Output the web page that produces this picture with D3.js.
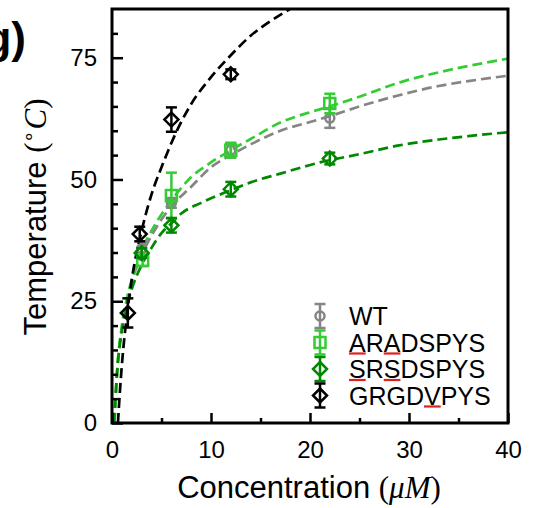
<!DOCTYPE html>
<html>
<head>
<meta charset="utf-8">
<script src="https://cdn.jsdelivr.net/npm/d3@7"></script>
<style>
  body { margin: 0; background: #fff; }
  svg { display: block; font-family: "Liberation Sans", Arial, sans-serif; }
</style>
</head>
<body>
<svg id="chart" width="539" height="508"></svg>
<script>
// measured points (concentration in uM, temperature in C, error)
let wtX = [3, 6, 12, 22];
let wtY = [35.8, 45.2, 56.0, 62.6];
let wtErr = [1.5, 1.0, 1.5, 2.0];

let araX = [3.1, 6, 12, 22];
let araY = [33.4, 46.7, 56.0, 65.6];
let araErr = [1.2, 4.7, 1.5, 2.0];

let srsX = [3, 6, 12, 22];
let srsY = [34.9, 40.6, 48.0, 54.3];
let srsErr = [1.0, 1.5, 1.5, 1.2];

let grgX = [1.6, 2.8, 6, 12];
let grgY = [22.6, 38.8, 62.3, 71.6];
let grgErr = [3.0, 1.5, 2.5, 1.0];

// fitted curves
let fitBlackX = [0.6, 0.8, 1.0, 1.5, 2, 3, 4, 5, 6, 8, 10, 12, 14, 16, 18.4];
let fitBlackY = [0, 6.5, 12, 22, 29.5, 39.5, 47, 52.5, 57.5, 65.5, 71, 75.5, 79.5, 82.5, 85.5];

let fitGrayX = [0.25, 0.5, 1, 1.5, 2, 3, 4, 6, 8, 10, 12, 14, 17, 20, 22, 25, 29, 33, 36, 40];
let fitGrayY = [0, 10, 19.5, 25, 29, 34.5, 38.5, 44.5, 48.5, 52.5, 55, 57.2, 60, 61.8, 63, 65, 67.3, 69.2, 70.2, 71.3];

let fitLightX = [0.25, 0.5, 1, 1.5, 2, 3, 4, 6, 8, 10, 12, 14, 17, 20, 22, 25, 29, 33, 36, 40];
let fitLightY = [0, 10, 20, 25.5, 29.5, 35.5, 39.5, 45.7, 50.5, 53.5, 56, 58.3, 61.7, 63.8, 65, 67, 69.9, 72, 73.3, 74.8];

let fitDarkX = [0.2, 0.5, 1, 1.5, 2, 3, 4, 5, 6, 7, 9, 12, 14, 17, 21, 25, 29, 33, 36, 40];
let fitDarkY = [0, 10, 19, 24, 27.5, 32.5, 36, 39, 41, 43, 45.2, 47.8, 49.4, 51.2, 53.5, 55.2, 57, 58.2, 58.9, 59.7];

let xMajor = [0, 10, 20, 30, 40];
let xMinor = [5, 15, 25, 35];
let yMajor = [0, 25, 50, 75];
let yMinor = [5, 10, 15, 20, 30, 35, 40, 45, 55, 60, 65, 70, 80];

let legendNames = ["WT", "ARADSPYS", "SRSDSPYS", "GRGDVPYS"];
let legendMarks = [[], [0, 2], [0, 2], [4]]; // underlined letters

const GRAY = "#858585", LIGHT = "#33cc33", DARK = "#008800", BLACK = "#000";

let svg = d3.select("#chart");
let pLeft = 112, pRight = 508, pTop = 9, pBottom = 423;

let x = d3.scaleLinear().domain([0, 40]).range([pLeft, pRight]);
let y = d3.scaleLinear().domain([0, 85]).range([pBottom, pTop]);

// panel letter, cut at the left edge like the source figure
svg.append("text")
  .attr("x", 26).attr("y", 53)
  .attr("text-anchor", "end")
  .attr("font-size", 44).attr("font-weight", "bold")
  .text("g)");

svg.append("clipPath").attr("id", "plotClip")
  .append("rect").attr("x", pLeft).attr("y", pTop)
  .attr("width", pRight - pLeft).attr("height", pBottom - pTop);

// fit curves
let line = d3.line().x(d => x(d[0])).y(d => y(d[1])).curve(d3.curveMonotoneX);
let fits = [
  [fitGrayX, fitGrayY, GRAY],
  [fitLightX, fitLightY, LIGHT],
  [fitDarkX, fitDarkY, DARK],
  [fitBlackX, fitBlackY, BLACK]
];
fits.forEach(f => {
  svg.append("path")
    .datum(d3.zip(f[0], f[1]))
    .attr("d", line)
    .attr("clip-path", "url(#plotClip)")
    .attr("fill", "none")
    .attr("stroke", f[2])
    .attr("stroke-width", 2.7)
    .attr("stroke-dasharray", "10,5");
});

function marker(g, kind, color) {
  if (kind == "circle") {
    g.append("circle").attr("r", 4.5).attr("fill", "none")
      .attr("stroke", color).attr("stroke-width", 2.5);
  } else if (kind == "square") {
    g.append("rect").attr("x", -5.5).attr("y", -5.5).attr("width", 11).attr("height", 11)
      .attr("fill", "none").attr("stroke", color).attr("stroke-width", 2.5);
  } else {
    g.append("path").attr("d", "M0,-7L7,0L0,7L-7,0Z")
      .attr("fill", "none").attr("stroke", color).attr("stroke-width", 2.5);
  }
}

function errBar(g, y0, y1, color) {
  g.append("line").attr("x1", 0).attr("x2", 0).attr("y1", y0).attr("y2", y1)
    .attr("stroke", color).attr("stroke-width", 2.5);
  [y0, y1].forEach(v => {
    g.append("line").attr("x1", -5.5).attr("x2", 5.5).attr("y1", v).attr("y2", v)
      .attr("stroke", color).attr("stroke-width", 2.5);
  });
}

let series = [
  [wtX, wtY, wtErr, "circle", GRAY],
  [araX, araY, araErr, "square", LIGHT],
  [srsX, srsY, srsErr, "diamond", DARK],
  [grgX, grgY, grgErr, "diamond", BLACK]
];

series.forEach(s => {
  s[0].forEach((xv, i) => {
    let g = svg.append("g").attr("transform", "translate(" + x(xv) + "," + y(s[1][i]) + ")");
    errBar(g, y(s[1][i] + s[2][i]) - y(s[1][i]), y(s[1][i] - s[2][i]) - y(s[1][i]), s[4]);
    marker(g, s[3], s[4]);
  });
});

// axes
function styleAxis(g) {
  g.selectAll(".tick line").attr("stroke", "#000").attr("stroke-width", 2.5);
  g.selectAll(".tick text").attr("font-size", 24).attr("font-family", "Liberation Sans, Arial, sans-serif").attr("fill", "#000");
  g.select(".domain").remove();
}

let gx = svg.append("g").attr("transform", "translate(0," + pBottom + ")")
  .call(d3.axisBottom(x).tickValues(xMajor).tickSizeInner(-10).tickSizeOuter(0).tickPadding(18).tickFormat(d3.format("d")));
styleAxis(gx);
let gxm = svg.append("g").attr("transform", "translate(0," + pBottom + ")")
  .call(d3.axisBottom(x).tickValues(xMinor).tickSizeInner(-5).tickSizeOuter(0).tickFormat(""));
styleAxis(gxm);

let gy = svg.append("g").attr("transform", "translate(" + pLeft + ",0)")
  .call(d3.axisLeft(y).tickValues(yMajor).tickSizeInner(-11).tickSizeOuter(0).tickPadding(15).tickFormat(d3.format("d")));
styleAxis(gy);
let gym = svg.append("g").attr("transform", "translate(" + pLeft + ",0)")
  .call(d3.axisLeft(y).tickValues(yMinor).tickSizeInner(-6).tickSizeOuter(0).tickFormat(""));
styleAxis(gym);

// frame
svg.append("rect").attr("x", pLeft).attr("y", pTop)
  .attr("width", pRight - pLeft).attr("height", pBottom - pTop)
  .attr("fill", "none").attr("stroke", "#000").attr("stroke-width", 3);

// axis titles
let xt = svg.append("text")
  .attr("x", 309).attr("y", 498)
  .attr("text-anchor", "middle")
  .attr("font-size", 31);
xt.append("tspan").text("Concentration ");
xt.append("tspan").attr("font-family", "Liberation Serif, serif").text("(");
xt.append("tspan").attr("font-family", "Liberation Serif, serif").attr("font-style", "italic").text("μM");
xt.append("tspan").attr("font-family", "Liberation Serif, serif").text(")");

let yt = svg.append("text")
  .attr("transform", "translate(46,217) rotate(-90)")
  .attr("text-anchor", "middle")
  .attr("font-size", 31);
yt.append("tspan").text("Temperature ");
yt.append("tspan").attr("font-family", "Liberation Serif, serif").text("(");
yt.append("tspan").attr("font-family", "Liberation Serif, serif").attr("font-size", 20).attr("dy", -10).text("∘");
yt.append("tspan").attr("font-family", "Liberation Serif, serif").attr("font-style", "italic").attr("dy", 10).text("C");
yt.append("tspan").attr("font-family", "Liberation Serif, serif").text(")");

// legend
let legX = 320, legTextX = 349, legY0 = 325, legStep = 26.5;
series.forEach((s, i) => {
  let cy = legY0 + i * legStep - 9;
  let g = svg.append("g").attr("transform", "translate(" + legX + "," + cy + ")");
  errBar(g, -12, 12, s[4]);
  marker(g, s[3], s[4]);
  let t = svg.append("text")
    .attr("x", legTextX).attr("y", legY0 + i * legStep)
    .attr("font-size", 25)
    .text(legendNames[i]);
  let node = t.node();
  legendMarks[i].forEach(ci => {
    let sx = node.getStartPositionOfChar(ci).x;
    let w = node.getSubStringLength(ci, 1);
    svg.append("line")
      .attr("x1", sx).attr("x2", sx + w)
      .attr("y1", legY0 + i * legStep + 2).attr("y2", legY0 + i * legStep + 2)
      .attr("stroke", "#e02020").attr("stroke-width", 2.2);
  });
});
</script>
</body>
</html>
